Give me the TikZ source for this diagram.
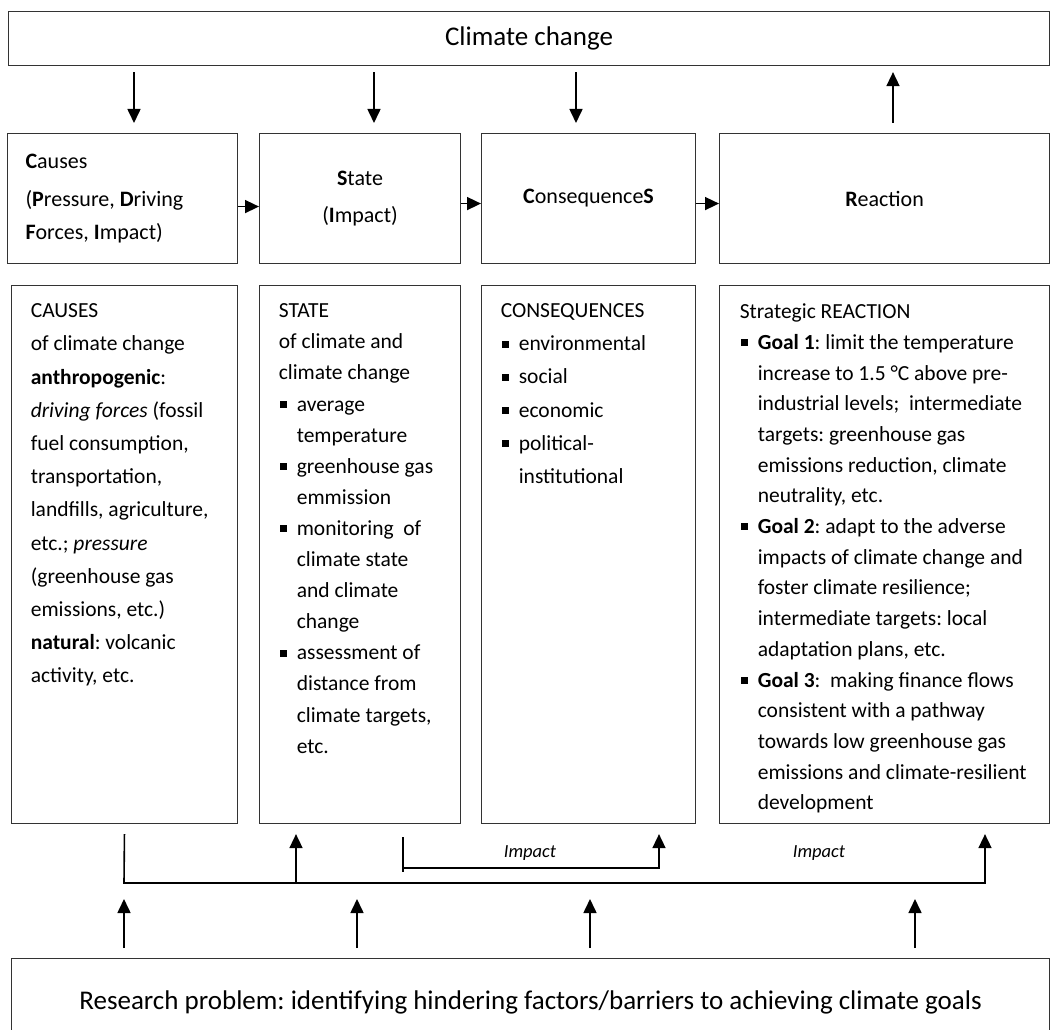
\documentclass[tikz,border=0pt]{standalone}
\usepackage{fontspec}
\setmainfont{Carlito}
\usetikzlibrary{arrows.meta, positioning}
\frenchspacing

\newcommand{\bul}{\makebox[18pt][l]{\hspace{1pt}\rule[3pt]{7pt}{7pt}}}
\newcommand{\ind}{\hspace*{18pt}}

\begin{document}
\begin{tikzpicture}[x=1pt, y=-1pt, >={Triangle[length=14pt, width=13pt]}, line width=1.6pt,
		box/.style={draw=black!80, line width=1.1pt, anchor=north west, inner sep=0pt},
		head/.style={box, minimum height=130pt, align=center, font=\fontsize{22}{33}\selectfont},
		detail/.style={box, minimum height=538pt},
		txt/.style={anchor=north west, inner sep=0pt, align=left},
		lbl/.style={font=\fontsize{18.5}{20}\selectfont\itshape}]
	\useasboundingbox (0,0) rectangle (1052,1030);

	\node[box, minimum width=1041pt, minimum height=54pt, font=\fontsize{27}{30}\selectfont]	(climate)	at (8, 11)	{Climate change};

	\node[head, minimum width=230pt, align=flush left, text width=194pt, inner xsep=18pt]	(causes)	at (7, 133)	{\textbf{C}auses\\[5pt] (\textbf{P}ressure, \textbf{D}riving\\ \textbf{F}orces, \textbf{I}mpact)};
	\node[head, minimum width=201pt]	(state)		at (259, 133)	{\textbf{S}tate\\[4pt] (\textbf{I}mpact)};
	\node[head, minimum width=214pt]	(conseq)	at (481, 133)	{\textbf{C}onsequence\textbf{S}};
	\node[head, minimum width=330pt]	(reaction)	at (719, 133)	{\textbf{R}eaction};

	\node[detail, minimum width=226pt]	(causesd)	at (11, 285)	{};
	\node[detail, minimum width=201pt]	(stated)	at (259, 285)	{};
	\node[detail, minimum width=214pt]	(conseqd)	at (481, 285)	{};
	\node[detail, minimum width=330pt]	(reactiond)	at (719, 285)	{};

	\node[txt, font=\fontsize{21.5}{33.2}\selectfont] (causest) at ([shift={(19, 18)}]causesd.north west) {%
		CAUSES\\
		of climate change\\
		\textbf{anthropogenic}:\\
		\textit{driving forces} (fossil\\
		fuel consumption,\\
		transportation,\\
		landfills, agriculture,\\
		etc.; \textit{pressure}\\
		(greenhouse gas\\
		emissions, etc.)\\
		\textbf{natural}: volcanic\\
		activity, etc.};
	\node[txt, font=\fontsize{21.5}{31.1}\selectfont] (statet) at ([shift={(19, 18)}]stated.north west) {%
		STATE\\
		of climate and\\
		climate change\\
		\bul average\\
		\ind temperature\\
		\bul greenhouse gas\\
		\ind emmission\\
		\bul monitoring~~of\\
		\ind climate state\\
		\ind and climate\\
		\ind change\\
		\bul assessment of\\
		\ind distance from\\
		\ind climate targets,\\
		\ind etc.};
	\node[txt, font=\fontsize{21.5}{33.1}\selectfont] (conseqt) at ([shift={(19, 18)}]conseqd.north west) {%
		CONSEQUENCES\\
		\bul environmental\\
		\bul social\\
		\bul economic\\
		\bul political-\\
		\ind institutional};
	\node[txt, font=\fontsize{21.5}{30.7}\selectfont] (reactiont) at ([shift={(20, 18)}]reactiond.north west) {%
		Strategic REACTION\\
		\bul \textbf{Goal 1}: limit the temperature\\
		\ind increase to 1.5 °C above pre-\\
		\ind industrial levels;~~intermediate\\
		\ind targets: greenhouse gas\\
		\ind emissions reduction, climate\\
		\ind neutrality, etc.\\
		\bul \textbf{Goal 2}: adapt to the adverse\\
		\ind impacts of climate change and\\
		\ind foster climate resilience;\\
		\ind intermediate targets: local\\
		\ind adaptation plans, etc.\\
		\bul \textbf{Goal 3}:~~making finance flows\\
		\ind consistent with a pathway\\
		\ind towards low greenhouse gas\\
		\ind emissions and climate-resilient\\
		\ind development};

	\node[box, minimum width=1038pt, minimum height=88pt, font=\fontsize{27}{30}\selectfont]	(problem)	at (11, 958)	{Research problem: identifying hindering factors/barriers to achieving climate goals};

	\coordinate (a1) at (134, 0);
	\coordinate (a2) at (374, 0);
	\coordinate (a3) at (576, 0);
	\coordinate (a4) at (893, 0);
	\draw[->, shorten <=6pt, shorten >=10pt] (climate.south -| a1) -- (causes.north -| a1);
	\draw[->, shorten <=6pt, shorten >=10pt] (climate.south -| a2) -- (state.north -| a2);
	\draw[->, shorten <=6pt, shorten >=10pt] (climate.south -| a3) -- (conseq.north -| a3);
	\draw[->, shorten <=10pt, shorten >=6pt] (reaction.north -| a4) -- (climate.south -| a4);

	\draw[->] ([yshift=-8pt]causes.east) -- ([yshift=-8pt]state.west);
	\draw[->] ([yshift=-5pt]state.east) -- ([yshift=-5pt]conseq.west);
	\draw[->] ([yshift=-5pt]conseq.east) -- ([yshift=-5pt]reaction.west);

	\coordinate (busL) at (124, 883);
	\coordinate (busS) at (296, 883);
	\coordinate (busR) at (985, 883);
	\coordinate (impL) at (403, 837);
	\coordinate (impR) at (659, 868);
	\draw[->, shorten <=10pt, shorten >=10pt] (causesd.south) -- (busL) -- (busR) -- (busR |- reactiond.south);
	\draw[->, shorten >=10pt] (busS) -- (busS |- stated.south);
	\draw (impL) -- ++(0, 35);
	\draw[->, shorten >=10pt] (impL |- impR) -- (impR) -- (impR |- conseqd.south);
	\node[lbl] (imp1) at (530, 853) {Impact};
	\node[lbl] (imp2) at (819, 853) {Impact};

	\foreach \x [count=\i] in {124, 357, 590, 915} {
		\coordinate (up\i) at (\x, 0);
		\draw[->, shorten <=10pt, shorten >=16pt] (problem.north -| up\i) -- (busL -| up\i);
	}
\end{tikzpicture}
\end{document}
